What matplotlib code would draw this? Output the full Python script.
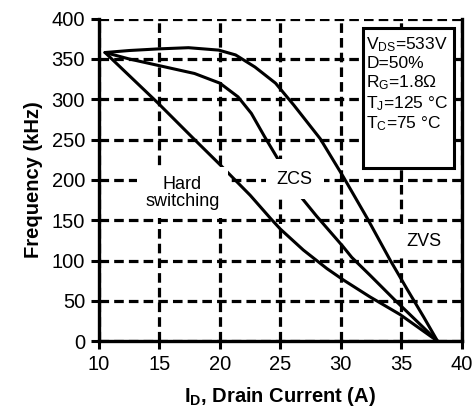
import matplotlib
matplotlib.use("Agg")
import matplotlib.pyplot as plt
from matplotlib.patches import Rectangle

plt.rcParams['font.family'] = ['Liberation Sans', 'DejaVu Sans']
plt.rcParams['mathtext.fontset'] = 'custom'
plt.rcParams['mathtext.rm'] = 'Liberation Sans'
plt.rcParams['mathtext.it'] = 'Liberation Sans:italic'
plt.rcParams['mathtext.bf'] = 'Liberation Sans:bold'

# curves (I_D in A, frequency in kHz)
zvs_x = [10.5, 12.5, 14.9, 17.4, 19.9, 21.3, 22.9, 24.6, 26.1, 28.3, 30.2,
         32.2, 34.1, 35.5, 36.85, 38.0]
zvs_y = [358, 360.5, 362.5, 364, 361, 355, 340, 320, 293, 251, 204,
         152, 100, 64, 30, 0]

zcs_x = [10.5, 12.5, 14.9, 17.9, 20.0, 21.5, 22.6, 23.7, 24.85, 26.37, 28.0,
         30.2, 30.9, 32.4, 34.4, 38.0]
zcs_y = [358, 350, 342, 332, 320, 303, 282.5, 253.5, 224.6, 185, 155,
         117, 104, 82, 52, 0]

hard_x = [10.5, 14.9, 17.7, 20.0, 22.5, 24.2, 25.0, 26.9, 28.85, 30.2, 32.4,
          34.9, 38.0]
hard_y = [358, 295, 253, 219, 181, 152, 139, 113, 90, 76, 55,
          33, 0]

xticks = [10, 15, 20, 25, 30, 35, 40]
yticks = [0, 50, 100, 150, 200, 250, 300, 350, 400]

conditions = ["V$_\\mathrm{DS}$=533V", "D=50%", "R$_\\mathrm{G}$=1.8\u03a9",
              "T$_\\mathrm{J}$=125 \u00b0C", "T$_\\mathrm{C}$=75 \u00b0C"]


def main():
    fig = plt.figure(figsize=(4.76, 4.15), dpi=100)
    ax = fig.add_axes([0.208, 0.178, 0.762, 0.777])

    dash = (0, (3.0, 1.6))
    for c in (zvs_x, zvs_y), (zcs_x, zcs_y), (hard_x, hard_y):
        ax.plot(c[0], c[1], color='black', lw=2.2, zorder=3,
                solid_joinstyle='round', solid_capstyle='round')

    ax.set_xlim(10, 40)
    ax.set_ylim(0, 400)
    ax.set_xticks(xticks)
    ax.set_yticks(yticks)
    ax.grid(True, color='black', lw=2.3, linestyle=dash)
    ax.set_axisbelow(True)

    for s in ('left', 'bottom', 'right'):
        ax.spines[s].set_linewidth(2.4)
        ax.spines[s].set_zorder(4)
    ax.spines['top'].set_visible(False)
    ax.tick_params(direction='out', length=6, width=2.2, labelsize=14.5, pad=4)

    ax.set_xlabel("I$_\\mathbf{D}$, Drain Current (A)", fontsize=14.5,
                  fontweight='bold', labelpad=8)
    ax.set_ylabel("Frequency (kHz)", fontsize=14.5, fontweight='bold', labelpad=6)

    box = dict(facecolor='white', edgecolor='none', pad=6)
    ax.text(16.9, 184, "Hard\nswitching", fontsize=13, ha='center', va='center',
            linespacing=1.0, bbox=box, zorder=5)
    ax.text(26.2, 201, "ZCS", fontsize=13, ha='center', va='center',
            bbox=dict(facecolor='white', edgecolor='none', pad=8), zorder=5)
    ax.text(36.85, 124, "ZVS", fontsize=13, ha='center', va='center',
            bbox=box, zorder=5)

    ax.add_patch(Rectangle((0.727, 0.536), 0.252, 0.434, transform=ax.transAxes,
                           facecolor='white', edgecolor='black', lw=2.2, zorder=6))
    ax.text(0.737, 0.948, "\n".join(conditions), transform=ax.transAxes,
            fontsize=12.5, ha='left', va='top', linespacing=1.15, zorder=7)

    fig.savefig('out.png', dpi=100)


if __name__ == '__main__':
    main()
